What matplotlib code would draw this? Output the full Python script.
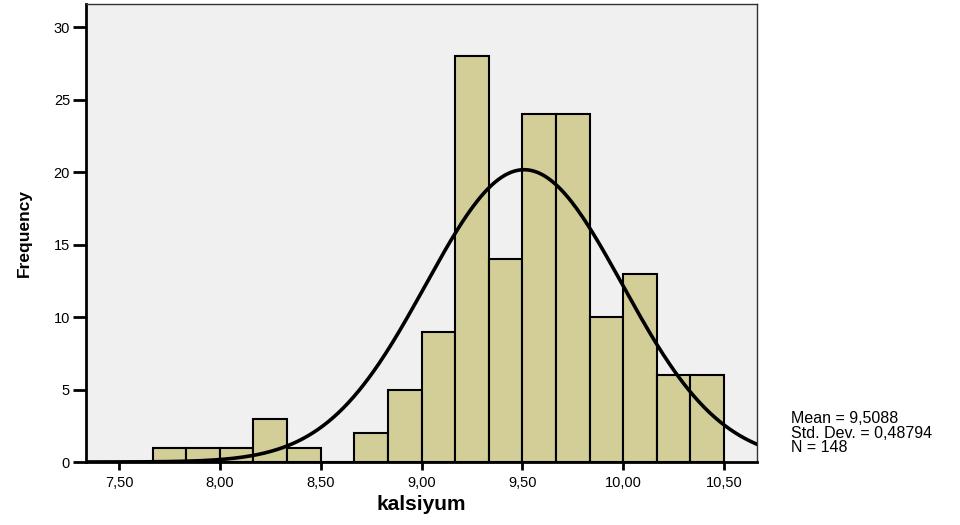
import matplotlib
matplotlib.use("Agg")
import matplotlib.pyplot as plt
import numpy as np

# histogram of kalsiyum, bin width 1/6 starting at 7.6667
bin_edges = [7.6667 + i / 6 for i in range(18)]
counts = [1, 1, 1, 3, 1, 0, 2, 5, 9, 28, 14, 24, 24, 10, 13, 6, 6]
mean, sd, n = 9.5088, 0.48794, 148
x_ticks = [7.5, 8.0, 8.5, 9.0, 9.5, 10.0, 10.5]
x_tick_labels = ["7,50", "8,00", "8,50", "9,00", "9,50", "10,00", "10,50"]
y_ticks = [0, 5, 10, 15, 20, 25, 30]

plt.rcParams["font.family"] = ["Liberation Sans", "DejaVu Sans"]

fig = plt.figure(figsize=(9.6, 5.25), dpi=100)
ax = fig.add_axes([86 / 960, 1 - 462 / 525, (757 - 86) / 960, (462 - 4) / 525])
ax.set_facecolor("#F0F0F0")

widths = np.diff(bin_edges)
ax.bar(bin_edges[:-1], counts, width=widths, align="edge",
       color="#D3CE98", edgecolor="black", linewidth=1.5, zorder=2)

xmin, xmax = 7.336, 10.664
xs = np.linspace(xmin, xmax, 400)
bw = 1 / 6
ys = n * bw / (sd * np.sqrt(2 * np.pi)) * np.exp(-0.5 * ((xs - mean) / sd) ** 2)
ax.plot(xs, ys, color="black", linewidth=2.6, zorder=3)

ax.set_xlim(xmin, xmax)
ax.set_ylim(0, 31.6)
ax.set_xticks(x_ticks)
ax.set_xticklabels(x_tick_labels)
ax.set_yticks(y_ticks)
ax.tick_params(axis="both", direction="out", width=2, labelsize=10.5)
ax.tick_params(axis="x", length=6, pad=4)
ax.tick_params(axis="y", length=9.5, pad=2)

for side in ["left", "bottom"]:
    ax.spines[side].set_linewidth(2)
    ax.spines[side].set_color("black")
for side in ["top", "right"]:
    ax.spines[side].set_linewidth(1)
    ax.spines[side].set_color("#333333")

ax.set_xlabel("kalsiyum", fontsize=15, fontweight="bold", labelpad=4)
ax.set_ylabel("Frequency", fontsize=12.5, fontweight="bold", labelpad=16)

fig.text(791 / 960, 1 - 433 / 525,
         f"Mean = 9,5088\nStd. Dev. = 0,48794\nN = {n}",
         fontsize=11.5, va="center", ha="left", linespacing=0.95)

fig.savefig("out.png", dpi=100)
